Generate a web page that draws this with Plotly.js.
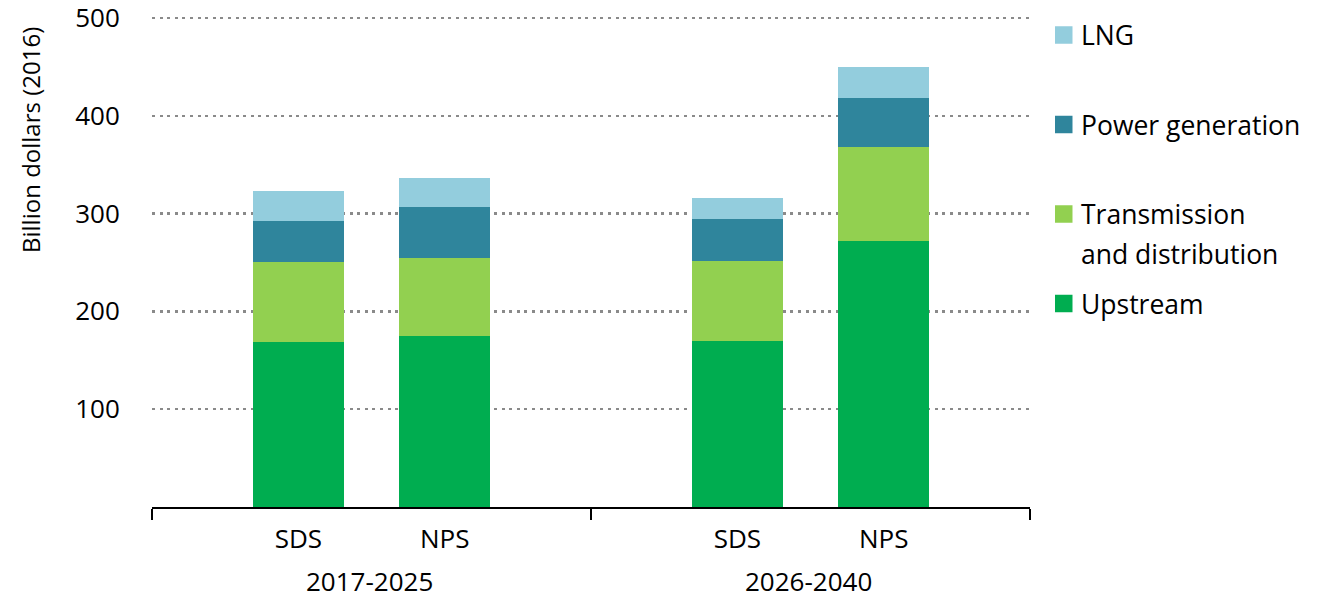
<!DOCTYPE html>
<html>
<head>
<meta charset="utf-8">
<script src="https://cdn.plot.ly/plotly-3.0.1.min.js"></script>
<style>
  html, body { margin: 0; padding: 0; background: #ffffff; }
  #chart { width: 1318px; height: 599px; }
</style>
</head>
<body>
<div id="chart"></div>
<script>
// Gas-related investment by scenario and period, billion dollars (2016)
const periods = ['2017-2025', '2017-2025', '2026-2040', '2026-2040'];
const scenarios = ['SDS', 'NPS', 'SDS', 'NPS'];

const upstream = [169, 175, 170, 272];
const transmission = [81, 80, 82, 96];
const powerGeneration = [42.5, 52, 42, 50];
const lng = [30.5, 29, 22, 32];

const seriesNames = ['Upstream', 'Transmission<br>and distribution', 'Power generation', 'LNG'];
const seriesColors = ['#00AD50', '#92D050', '#2F859C', '#93CDDD'];
const yTickValues = [100, 200, 300, 400, 500];
const yAxisTitle = 'Billion dollars (2016)';

// Place bars in groups of slots: one slot margin at each group edge.
const groups = [...new Set(periods)];
const slotsPerGroup = 3;
const positions = periods.map((p, i) => {
  const g = groups.indexOf(p);
  const k = periods.slice(0, i).filter(q => q === p).length;
  return g * slotsPerGroup + k + 1;
});
const groupCenters = groups.map(p => {
  const pos = positions.filter((_, i) => periods[i] === p);
  return pos.reduce((a, b) => a + b, 0) / pos.length;
});
const dividers = [];
for (let g = 0; g <= groups.length; g++) dividers.push(g * slotsPerGroup);
const xMax = groups.length * slotsPerGroup;

const seriesValues = [upstream, transmission, powerGeneration, lng];
const traces = seriesValues.map((vals, i) => ({
  type: 'bar',
  x: positions,
  y: vals,
  name: seriesNames[i].replace('<br>', ' '),
  marker: { color: seriesColors[i], line: { width: 0 } },
  showlegend: false,
  hoverinfo: 'y+name'
}));

// Plot area in pixels; the value axis runs slightly past 500 so its top gridline shows
const W = 1318, H = 599;
const M = { l: 152, r: 288, t: 16, b: 92 };
const yMax = 502;
const plotW = W - M.l - M.r;
const plotH = H - M.t - M.b;
const pxX = px => (px - M.l) / plotW;
const pxY = py => (H - M.b - py) / plotH;

const FONT = '"Open Sans", "Noto Sans", sans-serif';
const textColor = '#000000';

const annotations = [];
const shapes = [];

// Axis title, placed near the top of the value axis
annotations.push({
  text: yAxisTitle, xref: 'paper', yref: 'paper',
  x: pxX(30), y: pxY(140), xanchor: 'center', yanchor: 'middle',
  textangle: -90, showarrow: false,
  font: { family: FONT, size: 24, color: textColor }
});

// Period labels under each group
groups.forEach((g, i) => {
  annotations.push({
    text: g, xref: 'paper', yref: 'paper',
    x: pxX(M.l + plotW * groupCenters[i] / xMax - 2), y: pxY(581),
    xanchor: 'center', yanchor: 'middle', showarrow: false,
    font: { family: FONT, size: 26, color: textColor }
  });
});

// Legend: top entry is the last stacked series
const legendTop = 35, legendStep = 89.5, lineStep = 40;
const swatch = 17.5, swatchLeft = 1055, textLeft = 1079;
for (let j = 0; j < seriesNames.length; j++) {
  const s = seriesNames.length - 1 - j;
  const cy = legendTop + j * legendStep;
  shapes.push({
    type: 'rect', xref: 'paper', yref: 'paper',
    x0: pxX(swatchLeft), x1: pxX(swatchLeft + swatch),
    y0: pxY(cy - swatch / 2), y1: pxY(cy + swatch / 2),
    fillcolor: seriesColors[s], line: { width: 0 }
  });
  seriesNames[s].split('<br>').forEach((line, li) => {
    annotations.push({
      text: line, xref: 'paper', yref: 'paper',
      x: pxX(textLeft), y: pxY(cy + li * lineStep),
      xanchor: 'left', yanchor: 'middle', showarrow: false,
      font: { family: FONT, size: 26.5, color: textColor }
    });
  });
}

const layout = {
  width: W, height: H,
  margin: M,
  paper_bgcolor: '#ffffff', plot_bgcolor: '#ffffff',
  barmode: 'stack',
  bargap: 0.38,
  font: { family: FONT, size: 26, color: textColor },
  showlegend: false,
  xaxis: {
    range: [0, xMax],
    tickmode: 'array', tickvals: positions, ticktext: scenarios,
    ticks: '', ticklabelstandoff: 8,
    showgrid: false, zeroline: false,
    showline: true, linecolor: '#000000', linewidth: 1.5,
    tickfont: { family: FONT, size: 26, color: textColor },
    minor: {
      tickmode: 'array', tickvals: dividers,
      ticks: 'outside', ticklen: 11, tickwidth: 1.5, tickcolor: '#000000',
      showgrid: false
    },
    fixedrange: true
  },
  yaxis: {
    range: [0, yMax],
    tickmode: 'array', tickvals: yTickValues,
    ticks: 'outside', ticklen: 26, tickcolor: 'rgba(0,0,0,0)',
    ticklabeloverflow: 'allow',
    showgrid: true, gridcolor: '#8a8a8a', gridwidth: 2.5, griddash: '3px,4.6px',
    zeroline: false, showline: false,
    tickfont: { family: FONT, size: 26, color: textColor },
    fixedrange: true
  },
  annotations: annotations,
  shapes: shapes
};

Plotly.newPlot('chart', traces, layout, { displayModeBar: false, staticPlot: true });
</script>
</body>
</html>
